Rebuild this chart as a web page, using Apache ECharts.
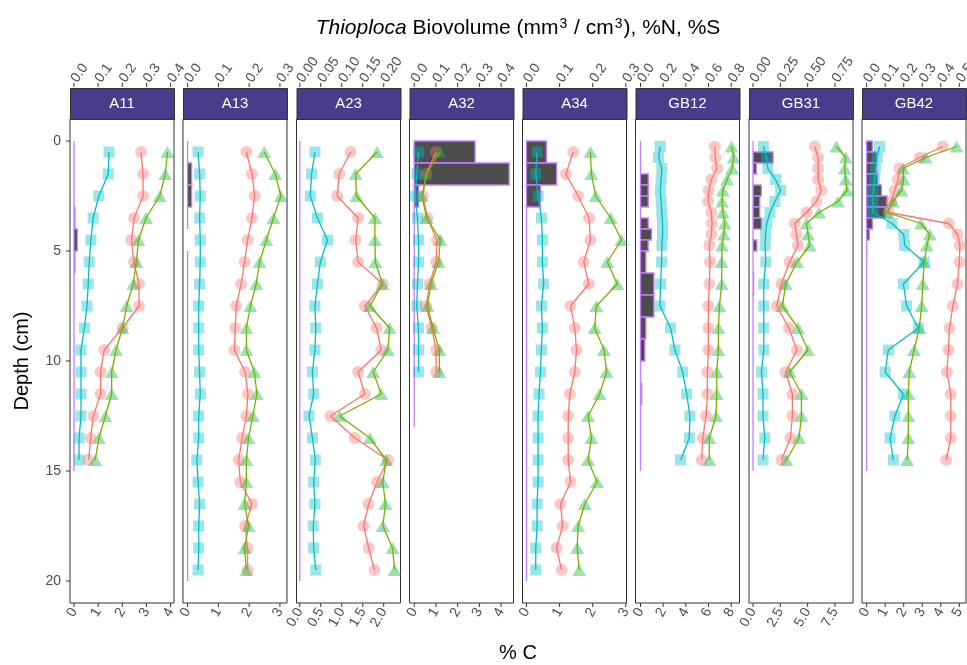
<!DOCTYPE html>
<html>
<head>
<meta charset="utf-8">
<script src="https://cdn.jsdelivr.net/npm/echarts@6/dist/echarts.min.js"></script>
<style>
  html, body { margin: 0; padding: 0; background: #ffffff; }
  #chart { width: 967px; height: 665px; }
</style>
</head>
<body>
<div id="chart"></div>
<script>
// ---- sampling depths (cm, slice mid-points) ----
const depthA11 = [0.5, 1.5, 2.5, 3.5, 4.5, 5.5, 6.5, 7.5, 8.5, 9.5, 10.5, 11.5, 12.5, 13.5, 14.5];
const depthA32 = [0.5, 1.5, 2.5, 3.5, 4.5, 5.5, 6.5, 7.5, 8.5, 9.5, 10.5];
const depth20 = [0.5, 1.5, 2.5, 3.5, 4.5, 5.5, 6.5, 7.5, 8.5, 9.5, 10.5, 11.5, 12.5, 13.5, 14.5, 15.5, 16.5, 17.5, 18.5, 19.5];
const depthGB = [0.25, 0.75, 1.25, 1.75, 2.25, 2.75, 3.25, 3.75, 4.25, 4.75, 5.5, 6.5, 7.5, 8.5, 9.5, 10.5, 11.5, 12.5, 13.5, 14.5];

// ---- slice boundaries for Thioploca biovolume (cm) ----
const sliceTop15 = [0, 1, 2, 3, 4, 5, 6, 7, 8, 9, 10, 11, 12, 13, 14];
const sliceBot15 = [1, 2, 3, 4, 5, 6, 7, 8, 9, 10, 11, 12, 13, 14, 15];
const sliceTopA13 = [0, 1, 2, 3, 5, 6, 7, 8, 9, 10, 11, 12, 13, 14, 15, 16, 17, 18, 19];
const sliceBotA13 = [1, 2, 3, 4, 6, 7, 8, 9, 10, 11, 12, 13, 14, 15, 16, 17, 18, 19, 20];
const sliceTop20 = [0, 1, 2, 3, 4, 5, 6, 7, 8, 9, 10, 11, 12, 13, 14, 15, 16, 17, 18, 19];
const sliceBot20 = [1, 2, 3, 4, 5, 6, 7, 8, 9, 10, 11, 12, 13, 14, 15, 16, 17, 18, 19, 20];
const sliceTop13 = [0, 1, 2, 3, 4, 5, 6, 7, 8, 9, 10, 11, 12];
const sliceBot13 = [1, 2, 3, 4, 5, 6, 7, 8, 9, 10, 11, 12, 13];
const sliceTopGB = [0, 0.5, 1, 1.5, 2, 2.5, 3, 3.5, 4, 4.5, 5, 6, 7, 8, 9, 10, 11, 12, 13, 14];
const sliceBotGB = [0.5, 1, 1.5, 2, 2.5, 3, 3.5, 4, 4.5, 5, 6, 7, 8, 9, 10, 11, 12, 13, 14, 15];

// ---- A11 ----
const carbonA11 = [2.77, 2.86, 2.86, 2.49, 2.38, 2.48, 2.69, 2.69, 2.01, 1.25, 1.10, 1.10, 0.80, 0.69, 0.61];
const nitrogenA11 = [0.387, 0.378, 0.355, 0.298, 0.267, 0.258, 0.245, 0.218, 0.201, 0.174, 0.156, 0.156, 0.130, 0.103, 0.088];
const sulfurA11 = [0.145, 0.142, 0.103, 0.079, 0.070, 0.063, 0.059, 0.054, 0.043, 0.029, 0.029, 0.029, 0.029, 0.021, 0.021];
const bioA11 = [0, 0, 0, 0.004, 0.014, 0.004, 0, 0, 0, 0, 0, 0, 0, 0, 0];

// ---- A13 ----
const carbonA13 = [1.91, 2.09, 2.18, 2.09, 1.95, 1.85, 1.74, 1.58, 1.55, 1.52, 1.87, 1.96, 1.91, 1.77, 1.66, 1.71, 2.09, 1.87, 1.95, 1.95];
const nitrogenA13 = [0.249, 0.285, 0.303, 0.279, 0.256, 0.234, 0.223, 0.204, 0.191, 0.191, 0.217, 0.225, 0.212, 0.198, 0.191, 0.191, 0.185, 0.198, 0.185, 0.191];
const sulfurA13 = [0.034, 0.039, 0.041, 0.039, 0.041, 0.041, 0.039, 0.036, 0.036, 0.036, 0.039, 0.041, 0.036, 0.036, 0.030, 0.034, 0.039, 0.036, 0.036, 0.034];
const bioA13 = [0, 0.013, 0.013, 0, 0, 0, 0, 0, 0, 0, 0, 0, 0, 0, 0, 0, 0, 0, 0];

// ---- A23 ----
const carbonA23 = [1.21, 0.94, 0.89, 1.39, 1.33, 1.39, 1.98, 1.55, 1.83, 1.94, 1.39, 1.55, 0.73, 1.31, 2.10, 1.84, 1.64, 1.52, 1.64, 1.78];
const nitrogenA23 = [0.184, 0.133, 0.135, 0.179, 0.179, 0.180, 0.197, 0.167, 0.214, 0.210, 0.175, 0.194, 0.095, 0.167, 0.206, 0.198, 0.204, 0.198, 0.221, 0.226];
const sulfurA23 = [0.036, 0.028, 0.025, 0.042, 0.066, 0.049, 0.042, 0.036, 0.038, 0.036, 0.030, 0.033, 0.022, 0.030, 0.037, 0.033, 0.036, 0.032, 0.033, 0.038];
const bioA23 = [0, 0, 0, 0, 0, 0, 0, 0, 0, 0, 0, 0, 0, 0, 0, 0, 0, 0, 0, 0];

// ---- A32 ----
const carbonA32 = [1.01, 0.55, 0.40, 0.61, 1.04, 1.01, 0.71, 0.55, 0.81, 1.01, 1.01];
const nitrogenA32 = [0.116, 0.058, 0.035, 0.058, 0.120, 0.112, 0.077, 0.061, 0.086, 0.116, 0.116];
const sulfurA32 = [0.020, 0.012, 0.005, 0.015, 0.020, 0.020, 0.015, 0.012, 0.020, 0.020, 0.020];
const bioA32 = [0.28, 0.437, 0.02, 0, 0, 0, 0, 0, 0, 0, 0, 0, 0];

// ---- A34 ----
const carbonA34 = [1.41, 1.19, 1.56, 1.89, 1.93, 1.73, 1.88, 1.33, 1.46, 1.51, 1.46, 1.31, 1.26, 1.26, 1.26, 1.33, 1.03, 1.09, 0.91, 1.06];
const nitrogenA34 = [0.193, 0.196, 0.209, 0.254, 0.287, 0.244, 0.274, 0.211, 0.206, 0.234, 0.242, 0.221, 0.186, 0.196, 0.186, 0.213, 0.176, 0.156, 0.153, 0.159];
const sulfurA34 = [0.032, 0.028, 0.035, 0.045, 0.048, 0.048, 0.052, 0.045, 0.048, 0.045, 0.042, 0.038, 0.035, 0.035, 0.035, 0.035, 0.032, 0.032, 0.028, 0.028];
const bioA34 = [0.06, 0.091, 0.042, 0, 0, 0, 0, 0, 0, 0, 0, 0, 0, 0, 0, 0, 0, 0, 0, 0];

// ---- GB12 ----
const carbonGB12 = [6.55, 6.60, 6.75, 6.25, 6.02, 5.96, 6.25, 6.31, 6.25, 6.07, 6.13, 6.07, 5.98, 5.98, 5.98, 5.90, 5.90, 5.78, 5.49, 5.40];
const nitrogenGB12 = [0.802, 0.823, 0.808, 0.764, 0.726, 0.719, 0.726, 0.743, 0.735, 0.719, 0.716, 0.716, 0.696, 0.687, 0.687, 0.672, 0.672, 0.666, 0.607, 0.607];
const sulfurGB12 = [0.174, 0.159, 0.188, 0.182, 0.174, 0.182, 0.188, 0.195, 0.195, 0.188, 0.186, 0.177, 0.171, 0.265, 0.304, 0.372, 0.407, 0.436, 0.430, 0.354];
const bioGB12 = [0, 0, 0, 0.068, 0.068, 0.068, 0, 0.068, 0.097, 0.068, 0.047, 0.118, 0.118, 0.047, 0.038, 0, 0.01, 0, 0, 0];

// ---- GB31 ----
const carbonGB31 = [5.65, 5.95, 5.95, 5.95, 6.25, 5.80, 4.89, 3.82, 3.97, 4.12, 3.35, 2.59, 2.18, 3.28, 4.01, 2.98, 3.60, 3.60, 3.42, 2.60];
const nitrogenGB31 = [0.763, 0.848, 0.839, 0.848, 0.860, 0.778, 0.604, 0.489, 0.503, 0.519, 0.403, 0.299, 0.269, 0.412, 0.503, 0.336, 0.443, 0.443, 0.421, 0.305];
const sulfurGB31 = [0.095, 0.123, 0.135, 0.206, 0.252, 0.200, 0.155, 0.125, 0.115, 0.110, 0.116, 0.098, 0.098, 0.098, 0.098, 0.077, 0.091, 0.091, 0.107, 0.091];
const bioGB31 = [0, 0.183, 0.03, 0, 0.076, 0.061, 0.061, 0.076, 0, 0.035, 0, 0.005, 0, 0, 0, 0, 0, 0, 0, 0];

// ---- GB42 ----
const carbonGB42 = [4.10, 2.87, 1.77, 1.69, 1.51, 1.33, 1.19, 4.43, 4.90, 5.03, 5.00, 4.90, 4.65, 4.47, 4.41, 4.33, 4.54, 4.54, 4.54, 4.29];
const nitrogenGB42 = [0.485, 0.318, 0.197, 0.200, 0.188, 0.142, 0.110, 0.293, 0.340, 0.325, 0.310, 0.303, 0.297, 0.284, 0.256, 0.230, 0.225, 0.225, 0.225, 0.219];
const sulfurGB42 = [0.070, 0.057, 0.047, 0.043, 0.036, 0.034, 0.034, 0.137, 0.200, 0.205, 0.310, 0.198, 0.216, 0.279, 0.117, 0.100, 0.198, 0.153, 0.126, 0.144];
const bioGB42 = [0.031, 0.054, 0.054, 0.059, 0.08, 0.11, 0.10, 0.031, 0.015, 0, 0, 0, 0, 0, 0, 0, 0, 0, 0, 0];

// ---- tick values and labels ----
const depthTicks = [0, 5, 10, 15, 20];
const ticksA11C = [0, 1, 2, 3, 4], labelsA11C = ['0', '1', '2', '3', '4'];
const ticksA11T = [0, 0.1, 0.2, 0.3, 0.4], labelsA11T = ['0.0', '0.1', '0.2', '0.3', '0.4'];
const ticksA13C = [0, 1, 2, 3], labelsA13C = ['0', '1', '2', '3'];
const ticksA13T = [0, 0.1, 0.2, 0.3], labelsA13T = ['0.0', '0.1', '0.2', '0.3'];
const ticksA23C = [0, 0.5, 1, 1.5, 2], labelsA23C = ['0.0', '0.5', '1.0', '1.5', '2.0'];
const ticksA23T = [0, 0.05, 0.1, 0.15, 0.2], labelsA23T = ['0.00', '0.05', '0.10', '0.15', '0.20'];
const ticksA32C = [0, 1, 2, 3, 4], labelsA32C = ['0', '1', '2', '3', '4'];
const ticksA32T = [0, 0.1, 0.2, 0.3, 0.4], labelsA32T = ['0.0', '0.1', '0.2', '0.3', '0.4'];
const ticksA34C = [0, 1, 2, 3], labelsA34C = ['0', '1', '2', '3'];
const ticksA34T = [0, 0.1, 0.2, 0.3], labelsA34T = ['0.0', '0.1', '0.2', '0.3'];
const ticksGB12C = [0, 2, 4, 6, 8], labelsGB12C = ['0', '2', '4', '6', '8'];
const ticksGB12T = [0, 0.2, 0.4, 0.6, 0.8], labelsGB12T = ['0.0', '0.2', '0.4', '0.6', '0.8'];
const ticksGB31C = [0, 2.5, 5, 7.5], labelsGB31C = ['0.0', '2.5', '5.0', '7.5'];
const ticksGB31T = [0, 0.25, 0.5, 0.75], labelsGB31T = ['0.00', '0.25', '0.50', '0.75'];
const ticksGB42C = [0, 1, 2, 3, 4, 5], labelsGB42C = ['0', '1', '2', '3', '4', '5'];
const ticksGB42T = [0, 0.1, 0.2, 0.3, 0.4, 0.5], labelsGB42T = ['0.0', '0.1', '0.2', '0.3', '0.4', '0.5'];

// ---- facets: data references and %C axis limits (secondary axis = %C / 10) ----
const panels = [
  { site: 'A11', depth: depthA11, c: carbonA11, n: nitrogenA11, s: sulfurA11, top: sliceTop15, bot: sliceBot15, bio: bioA11,
    cMin: -0.165, cMax: 4.14, cTicks: ticksA11C, cLabels: labelsA11C, tTicks: ticksA11T, tLabels: labelsA11T },
  { site: 'A13', depth: depth20, c: carbonA13, n: nitrogenA13, s: sulfurA13, top: sliceTopA13, bot: sliceBotA13, bio: bioA13,
    cMin: -0.15, cMax: 3.23, cTicks: ticksA13C, cLabels: labelsA13C, tTicks: ticksA13T, tLabels: labelsA13T },
  { site: 'A23', depth: depth20, c: carbonA23, n: nitrogenA23, s: sulfurA23, top: sliceTop20, bot: sliceBot20, bio: bioA23,
    cMin: -0.079, cMax: 2.40, cTicks: ticksA23C, cLabels: labelsA23C, tTicks: ticksA23T, tLabels: labelsA23T },
  { site: 'A32', depth: depthA32, c: carbonA32, n: nitrogenA32, s: sulfurA32, top: sliceTop13, bot: sliceBot13, bio: bioA32,
    cMin: -0.216, cMax: 4.57, cTicks: ticksA32C, cLabels: labelsA32C, tTicks: ticksA32T, tLabels: labelsA32T },
  { site: 'A34', depth: depth20, c: carbonA34, n: nitrogenA34, s: sulfurA34, top: sliceTop20, bot: sliceBot20, bio: bioA34,
    cMin: -0.12, cMax: 3.02, cTicks: ticksA34C, cLabels: labelsA34C, tTicks: ticksA34T, tLabels: labelsA34T },
  { site: 'GB12', depth: depthGB, c: carbonGB12, n: nitrogenGB12, s: sulfurGB12, top: sliceTopGB, bot: sliceBotGB, bio: bioGB12,
    cMin: -0.44, cMax: 8.73, cTicks: ticksGB12C, cLabels: labelsGB12C, tTicks: ticksGB12T, tLabels: labelsGB12T },
  { site: 'GB31', depth: depthGB, c: carbonGB31, n: nitrogenGB31, s: sulfurGB31, top: sliceTopGB, bot: sliceBotGB, bio: bioGB31,
    cMin: -0.37, cMax: 9.15, cTicks: ticksGB31C, cLabels: labelsGB31C, tTicks: ticksGB31T, tLabels: labelsGB31T },
  { site: 'GB42', depth: depthGB, c: carbonGB42, n: nitrogenGB42, s: sulfurGB42, top: sliceTopGB, bot: sliceBotGB, bio: bioGB42,
    cMin: -0.25, cMax: 5.36, cTicks: ticksGB42C, cLabels: labelsGB42C, tTicks: ticksGB42T, tLabels: labelsGB42T }
];

// ---- layout ----
const FONT = '"Liberation Sans", Arial, Helvetica, sans-serif';
const PANEL_LEFT = [70, 183, 296.5, 409.5, 522.5, 635.5, 749, 862];
const PANEL_W = 104;
const PANEL_TOP = 119;
const PANEL_H = 484;
const STRIP_H = 31;
const TOP_AXIS_GAP = STRIP_H + 1;
const TICK_LEN = 4;
const DEPTH_MIN = -1, DEPTH_MAX = 21;
const TEXT_GREY = '#4D4D4D';
const TICK_COL = '#333333';

const COL_C = '#F8766D', COL_N = '#7CAE00', COL_S = '#00BFC4', COL_BIO = '#C77CFF';

function labelLookup(ticks, labels) {
  return function (v) {
    let best = 0;
    for (let k = 1; k < ticks.length; k++) {
      if (Math.abs(ticks[k] - v) < Math.abs(ticks[best] - v)) best = k;
    }
    return labels[best];
  };
}

// tick marks drawn through the axis scales (outward from the panel edge)
function tickSeries(xIdx, yIdx, points, side) {
  return {
    type: 'custom', xAxisIndex: xIdx, yAxisIndex: yIdx, silent: true, clip: false, z: 5,
    data: points, encode: { x: 0, y: 1 },
    renderItem: function (params, api) {
      const p = api.coord([api.value(0), api.value(1)]);
      let shape;
      if (side === 'bottom') shape = { x1: p[0], y1: p[1], x2: p[0], y2: p[1] + TICK_LEN };
      else if (side === 'top') shape = { x1: p[0], y1: p[1] - TOP_AXIS_GAP, x2: p[0], y2: p[1] - TOP_AXIS_GAP - TICK_LEN };
      else shape = { x1: p[0], y1: p[1], x2: p[0] - TICK_LEN, y2: p[1] };
      return { type: 'line', shape: shape, style: { stroke: TICK_COL, lineWidth: 1 } };
    }
  };
}

const grids = [], xAxes = [], yAxes = [], series = [], graphics = [];

panels.forEach((p, i) => {
  grids.push({
    left: PANEL_LEFT[i], top: PANEL_TOP, width: PANEL_W, height: PANEL_H,
    outerBoundsMode: 'none', containLabel: false,
    show: true, borderColor: '#333333', borderWidth: 1, backgroundColor: '#ffffff'
  });

  const labelBase = { fontSize: 14, color: TEXT_GREY, fontFamily: FONT };

  // bottom axis: % C
  xAxes.push({
    gridIndex: i, type: 'value', position: 'bottom', min: p.cMin, max: p.cMax,
    axisLine: { show: false }, splitLine: { show: false }, axisTick: { show: false },
    axisLabel: Object.assign({ customValues: p.cTicks, rotate: 60, margin: 6, formatter: labelLookup(p.cTicks, p.cLabels) }, labelBase)
  });
  // top axis: biovolume, %N, %S
  xAxes.push({
    gridIndex: i, type: 'value', position: 'top', offset: TOP_AXIS_GAP,
    min: p.cMin / 10, max: p.cMax / 10,
    axisLine: { show: false }, splitLine: { show: false }, axisTick: { show: false },
    axisLabel: Object.assign({ customValues: p.tTicks, rotate: -55, margin: 6, formatter: labelLookup(p.tTicks, p.tLabels) }, labelBase)
  });

  yAxes.push({
    gridIndex: i, type: 'value', inverse: true, min: DEPTH_MIN, max: DEPTH_MAX,
    axisLine: { show: false }, splitLine: { show: false }, axisTick: { show: false },
    axisLabel: { show: i === 0, customValues: depthTicks, margin: 9, fontSize: 14, color: TEXT_GREY, fontFamily: FONT }
  });

  const bx = i * 2, tx = i * 2 + 1;

  // Thioploca biovolume per slice
  series.push({
    type: 'custom', xAxisIndex: tx, yAxisIndex: i, z: 1,
    data: p.bio.map((v, k) => [v, p.top[k], p.bot[k]]),
    encode: { x: 0, y: [1, 2] },
    renderItem: function (params, api) {
      const a = api.coord([0, api.value(1)]);
      const b = api.coord([api.value(0), api.value(2)]);
      return {
        type: 'rect',
        shape: { x: a[0], y: a[1], width: b[0] - a[0], height: b[1] - a[1] },
        style: { fill: '#4D4D4D', stroke: COL_BIO, lineWidth: 1.3 }
      };
    }
  });

  // points
  series.push({
    type: 'scatter', xAxisIndex: bx, yAxisIndex: i, z: 2, symbol: 'circle', symbolSize: 12,
    itemStyle: { color: 'rgba(248,118,109,0.5)' },
    data: p.c.map((v, k) => [v, p.depth[k]])
  });
  series.push({
    type: 'scatter', xAxisIndex: tx, yAxisIndex: i, z: 2, symbol: 'triangle', symbolSize: [14, 12],
    itemStyle: { color: 'rgba(0,186,56,0.5)' },
    data: p.n.map((v, k) => [v, p.depth[k]])
  });
  series.push({
    type: 'scatter', xAxisIndex: tx, yAxisIndex: i, z: 2, symbol: 'rect', symbolSize: 11,
    itemStyle: { color: 'rgba(0,191,196,0.5)' },
    data: p.s.map((v, k) => [v, p.depth[k]])
  });

  // connecting lines, drawn in depth order
  [[bx, p.c, COL_C], [tx, p.n, COL_N], [tx, p.s, COL_S]].forEach(([ax, vals, col]) => {
    series.push({
      type: 'line', xAxisIndex: ax, yAxisIndex: i, z: 3, showSymbol: false, silent: true,
      lineStyle: { color: col, width: 1.3 },
      data: vals.map((v, k) => [v, p.depth[k]])
    });
  });

  // axis ticks
  series.push(tickSeries(bx, i, p.cTicks.map(v => [v, DEPTH_MAX]), 'bottom'));
  series.push(tickSeries(tx, i, p.tTicks.map(v => [v, DEPTH_MIN]), 'top'));
  if (i === 0) series.push(tickSeries(bx, i, depthTicks.map(d => [p.cMin, d]), 'left'));

  // facet strip
  graphics.push({
    type: 'rect', left: PANEL_LEFT[i], top: PANEL_TOP - STRIP_H, z: 10,
    shape: { width: PANEL_W, height: STRIP_H },
    style: { fill: '#483D8B', stroke: '#333333', lineWidth: 1 }
  });
  graphics.push({
    type: 'text', z: 11,
    x: PANEL_LEFT[i] + PANEL_W / 2, y: PANEL_TOP - STRIP_H / 2,
    style: { text: p.site, fill: '#ffffff', font: '15px ' + FONT, align: 'center', verticalAlign: 'middle' }
  });
});

// axis titles
graphics.push({
  type: 'text', z: 11, x: 518, y: 28,
  style: {
    text: '{i|Thioploca} Biovolume (mm{s|3} / cm{s|3}), %N, %S',
    align: 'center', verticalAlign: 'middle',
    font: '21px ' + FONT, fill: '#000000',
    rich: {
      i: { fontStyle: 'italic', fontSize: 21, fontFamily: FONT, fill: '#000000' },
      s: { fontSize: 14, fontFamily: FONT, fill: '#000000', verticalAlign: 'top', lineHeight: 16, padding: [0, 1, 10, 1] }
    }
  }
});
graphics.push({
  type: 'text', z: 11, x: 518, y: 653,
  style: { text: '% C', align: 'center', verticalAlign: 'middle', font: '20px ' + FONT, fill: '#000000' }
});
graphics.push({
  type: 'text', z: 11, x: 22, y: 361, rotation: Math.PI / 2,
  style: { text: 'Depth (cm)', align: 'center', verticalAlign: 'middle', font: '20px ' + FONT, fill: '#000000' }
});

const chart = echarts.init(document.getElementById('chart'), null, { renderer: 'canvas' });
chart.setOption({
  animation: false,
  backgroundColor: '#ffffff',
  grid: grids,
  xAxis: xAxes,
  yAxis: yAxes,
  series: series,
  graphic: graphics
});
</script>
</body>
</html>
